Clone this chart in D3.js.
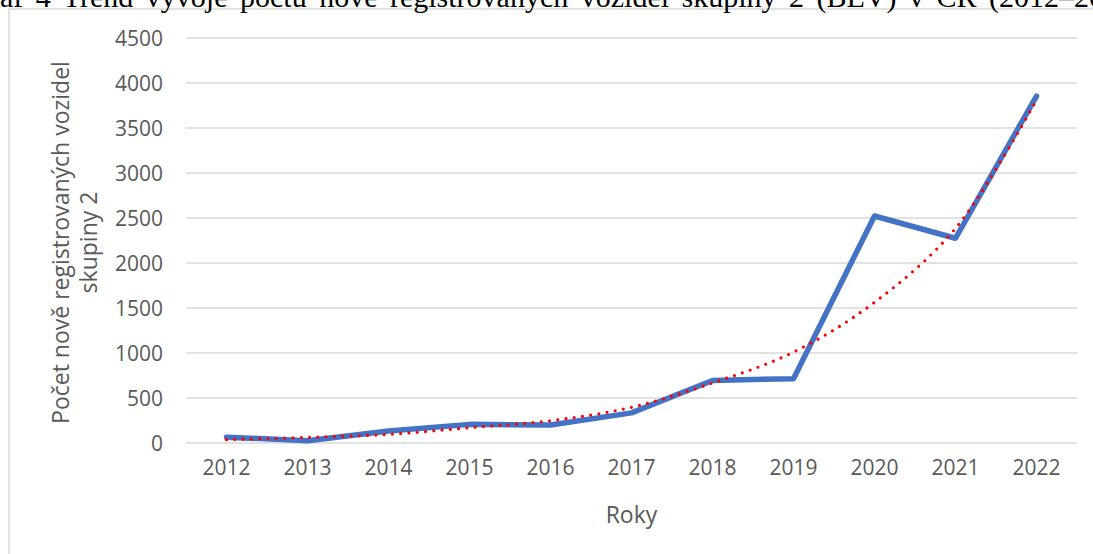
<!DOCTYPE html><html><head><meta charset="UTF-8"><script src="https://d3js.org/d3.v7.min.js"></script><style>
    body { margin: 0; background: #fff; overflow: hidden; }
    .tick text { fill: #595959; font-family: "Open Sans", sans-serif; font-size: 21px; }
    .axis-title { fill: #595959; font-family: "Open Sans", sans-serif; font-size: 23px; }
    .caption { font-family: "Liberation Serif", "Times New Roman", serif; font-size: 30px; fill: #000; word-spacing: 5px; }
</style></head><body><div id="chart"></div><script>
    const years = ["2012","2013","2014","2015","2016","2017","2018","2019","2020","2021","2022"];
    const registrations = [65, 25, 133, 207, 200, 335, 695, 715, 2522, 2275, 3855];
    const trend = [37, 63, 96, 170, 248, 397, 667, 1010, 1563, 2385, 3811];
    const yTicks = [0, 500, 1000, 1500, 2000, 2500, 3000, 3500, 4000, 4500];

    const fullWidth = 1093, fullHeight = 554;
    const plot = {left: 186, right: 1077, top: 38, bottom: 443};

    const svg = d3.select('#chart').append('svg')
        .attr('width', fullWidth)
        .attr('height', fullHeight);

    // chart frame (runs off the right and bottom edge)
    svg.append('rect')
        .attr('x', 9).attr('y', 9)
        .attr('width', 1200).attr('height', 700)
        .attr('fill', '#fff')
        .attr('stroke', '#d9d9d9')
        .attr('stroke-width', 1.5);

    // caption, clipped at the top-left like in the source document
    const caption = svg.append('text')
        .attr('class', 'caption')
        .attr('y', 7)
        .text('Graf 4 Trend vývoje počtu nově registrovaných vozidel skupiny 2 (BEV) v ČR (2012–2022)');
    const shift = caption.node().getSubStringLength(0, 2);
    caption.attr('x', -shift);

    const x = d3.scaleBand().domain(years).range([plot.left, plot.right]);
    const y = d3.scaleLinear().domain([0, 4500]).range([plot.bottom, plot.top]);

    // gridlines
    svg.append('g').selectAll('line')
        .data(yTicks)
        .enter().append('line')
        .attr('x1', plot.left).attr('x2', plot.right)
        .attr('y1', d => y(d)).attr('y2', d => y(d))
        .attr('stroke', '#d9d9d9')
        .attr('stroke-width', 1.3);

    const yAxis = svg.append('g')
        .attr('transform', `translate(${plot.left},0)`)
        .call(d3.axisLeft(y).tickValues(yTicks).tickFormat(d3.format('d')).tickSize(0).tickPadding(23));
    yAxis.select('.domain').remove();
    yAxis.selectAll('.tick text').attr('dy', '0.36em');

    const xAxis = svg.append('g')
        .attr('transform', `translate(0,${plot.bottom})`)
        .call(d3.axisBottom(x).tickSize(0).tickPadding(24));
    xAxis.select('.domain').remove();
    xAxis.selectAll('.tick text').attr('dy', '0.36em');

    svg.append('text')
        .attr('class', 'axis-title')
        .attr('x', (plot.left + plot.right) / 2)
        .attr('y', 523)
        .attr('text-anchor', 'middle')
        .text('Roky');

    const yTitle = svg.append('text')
        .attr('class', 'axis-title')
        .attr('transform', `translate(0,${(plot.top + plot.bottom) / 2 + 2}) rotate(-90)`)
        .attr('text-anchor', 'middle');
    yTitle.append('tspan').attr('x', 0).attr('y', 69).text('Počet nově registrovaných vozidel');
    yTitle.append('tspan').attr('x', 0).attr('y', 97).text('skupiny 2');

    const cx = d => x(d) + x.bandwidth() / 2;

    svg.append('path')
        .datum(registrations)
        .attr('fill', 'none')
        .attr('stroke', '#4472c4')
        .attr('stroke-width', 5.5)
        .attr('stroke-linejoin', 'round')
        .attr('stroke-linecap', 'round')
        .attr('d', d3.line().x((d, i) => cx(years[i])).y(d => y(d)));

    svg.append('path')
        .datum(trend)
        .attr('fill', 'none')
        .attr('stroke', '#ff0000')
        .attr('stroke-width', 3.2)
        .attr('stroke-linecap', 'round')
        .attr('stroke-dasharray', '0 8.3')
        .attr('d', d3.line().curve(d3.curveCatmullRom).x((d, i) => cx(years[i])).y(d => y(d)));
</script></body></html>
